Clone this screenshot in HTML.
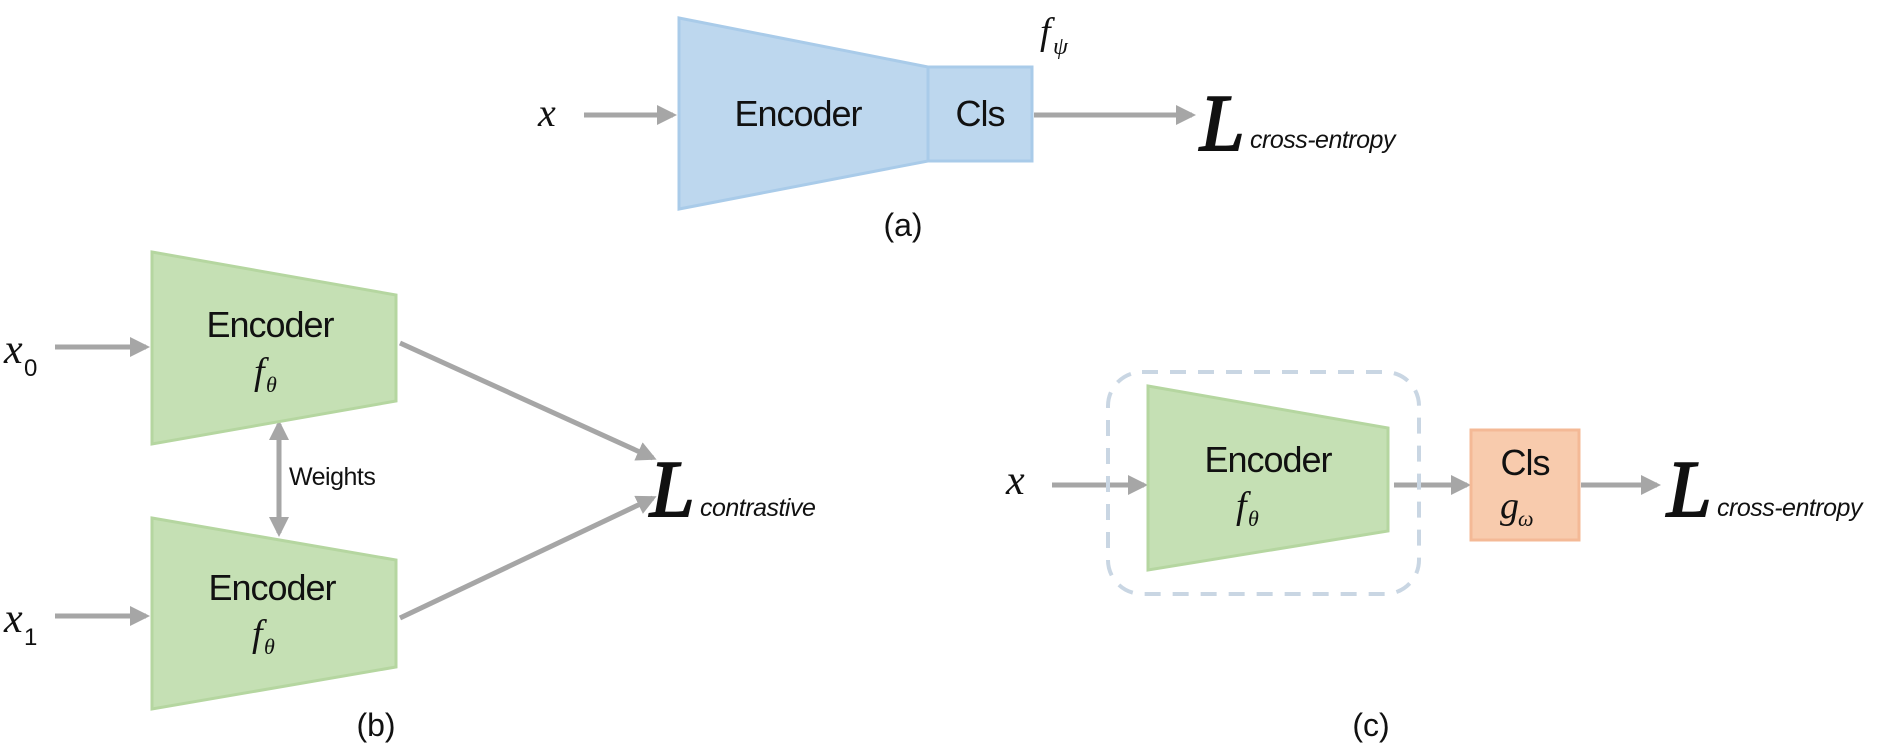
<!DOCTYPE html>
<html><head><meta charset="utf-8"><style>
html,body{margin:0;padding:0;background:#fff;}
svg{display:block;}
.s{font-family:"Liberation Sans",sans-serif;fill:#111;}
.m{font-family:"Liberation Serif",serif;font-style:italic;fill:#111;}
.L{font-family:"Liberation Serif",serif;font-style:italic;fill:#111;stroke:#111;stroke-width:2;}
</style></head><body>
<svg width="1901" height="750" viewBox="0 0 1901 750" xmlns="http://www.w3.org/2000/svg">
<defs>
<marker id="ah" markerWidth="4" markerHeight="4" refX="3.2" refY="2" orient="auto" markerUnits="strokeWidth">
<path d="M0,0 L4,2 L0,4 z" fill="#a6a6a6"/></marker>
<marker id="ahs" markerWidth="4" markerHeight="4" refX="0.8" refY="2" orient="auto" markerUnits="strokeWidth">
<path d="M4,0 L0,2 L4,4 z" fill="#a6a6a6"/></marker>
</defs>
<g stroke="#a6a6a6" stroke-width="5" fill="none">
<line x1="584" y1="115" x2="673" y2="115" marker-end="url(#ah)"/>
<line x1="1034" y1="115" x2="1192" y2="115" marker-end="url(#ah)"/>
<line x1="55" y1="347" x2="146" y2="347" marker-end="url(#ah)"/>
<line x1="55" y1="616" x2="146" y2="616" marker-end="url(#ah)"/>
<line x1="400" y1="343" x2="653" y2="458" marker-end="url(#ah)"/>
<line x1="400" y1="618" x2="653" y2="498" marker-end="url(#ah)"/>
<line x1="279" y1="424" x2="279" y2="533" marker-end="url(#ah)" marker-start="url(#ahs)"/>
<line x1="1052" y1="485" x2="1144" y2="485" marker-end="url(#ah)"/>
<line x1="1394" y1="485" x2="1467" y2="485" marker-end="url(#ah)"/>
<line x1="1581" y1="485" x2="1657" y2="485" marker-end="url(#ah)"/>
</g>
<polygon points="679,18 928,67 928,161 679,209" fill="#bdd7ee" stroke="#a9cbe9" stroke-width="3"/>
<rect x="928" y="67" width="104" height="94" fill="#bdd7ee" stroke="#a9cbe9" stroke-width="3"/>
<text class="s" x="798" y="126" font-size="36" letter-spacing="-1" text-anchor="middle">Encoder</text>
<text class="s" x="980" y="126" font-size="36" letter-spacing="-1" text-anchor="middle">Cls</text>
<text class="m" x="1040" y="44" font-size="38">f</text><text class="m" x="1053" y="54" font-size="24">ψ</text>
<text class="m" x="538" y="126" font-size="40">x</text>
<text class="L" x="1200" y="150" font-size="80">L</text>
<text class="s" x="1250" y="148" font-size="25" font-style="italic" letter-spacing="-0.5">cross-entropy</text>
<text class="s" x="903" y="236" font-size="32" text-anchor="middle">(a)</text>
<polygon points="152,252 396,295 396,401 152,444" fill="#c5e0b4" stroke="#b5d6a0" stroke-width="3"/>
<polygon points="152,518 396,560 396,667 152,709" fill="#c5e0b4" stroke="#b5d6a0" stroke-width="3"/>
<text class="s" x="270" y="337" font-size="36" letter-spacing="-1" text-anchor="middle">Encoder</text>
<text class="m" x="254" y="384" font-size="38">f</text><text class="m" x="266" y="392" font-size="22">θ</text>
<text class="s" x="272" y="600" font-size="36" letter-spacing="-1" text-anchor="middle">Encoder</text>
<text class="m" x="252" y="646" font-size="38">f</text><text class="m" x="264" y="654" font-size="22">θ</text>
<text class="s" x="289" y="485" font-size="25" letter-spacing="-0.5">Weights</text>
<text class="m" x="4" y="363" font-size="42">x</text><text class="s" x="24" y="376" font-size="24">0</text>
<text class="m" x="4" y="632" font-size="42">x</text><text class="s" x="24" y="645" font-size="24">1</text>
<text class="L" x="650" y="516" font-size="80">L</text>
<text class="s" x="700" y="516" font-size="25" font-style="italic" letter-spacing="-0.5">contrastive</text>
<text class="s" x="376" y="736" font-size="32" text-anchor="middle">(b)</text>
<rect x="1108" y="372" width="311" height="222" rx="34" fill="none" stroke="#c9d6e3" stroke-width="4" stroke-dasharray="16,12"/>
<polygon points="1148,386 1388,428 1388,531 1148,570" fill="#c5e0b4" stroke="#b5d6a0" stroke-width="3"/>
<text class="s" x="1268" y="472" font-size="36" letter-spacing="-1" text-anchor="middle">Encoder</text>
<text class="m" x="1236" y="518" font-size="38">f</text><text class="m" x="1248" y="526" font-size="22">θ</text>
<rect x="1471" y="430" width="108" height="110" fill="#f8cbad" stroke="#f4b996" stroke-width="3"/>
<text class="s" x="1525" y="475" font-size="36" letter-spacing="-1" text-anchor="middle">Cls</text>
<text class="m" x="1500" y="518" font-size="38">g</text><text class="m" x="1518" y="526" font-size="22">ω</text>
<text class="m" x="1006" y="494" font-size="42">x</text>
<text class="L" x="1667" y="516" font-size="80">L</text>
<text class="s" x="1717" y="516" font-size="25" font-style="italic" letter-spacing="-0.5">cross-entropy</text>
<text class="s" x="1371" y="736" font-size="32" text-anchor="middle">(c)</text>
</svg>
</body></html>
